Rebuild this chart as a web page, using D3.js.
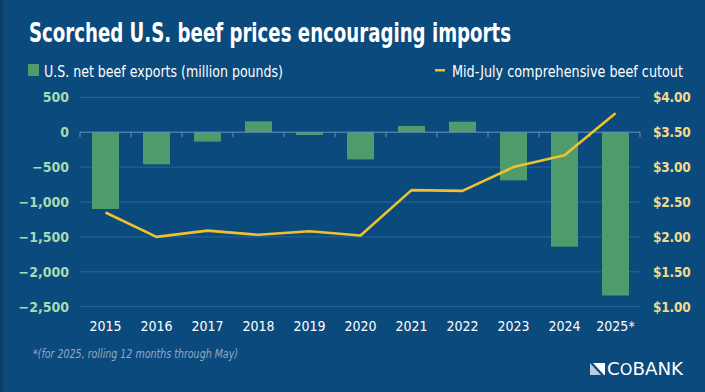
<!DOCTYPE html>
<html><head><meta charset="utf-8">
<script src="https://cdn.jsdelivr.net/npm/d3@7"></script>
<style>
html,body{margin:0;padding:0;background:#0b4a7c;}
svg{display:block;}
text{font-family:"DejaVu Sans Condensed","Roboto",sans-serif;}
</style></head>
<body>
<svg id="c" width="705" height="392"></svg>
<script>
const years = ["2015","2016","2017","2018","2019","2020","2021","2022","2023","2024","2025*"];
const netExports = [-1100,-460,-135,155,-40,-390,90,150,-690,-1640,-2340];
const cutout = [2.35,2.00,2.09,2.03,2.08,2.02,2.67,2.66,3.00,3.17,3.77];
const leftTicks = [500,0,-500,-1000,-1500,-2000,-2500];
const rightTicks = [4.0,3.5,3.0,2.5,2.0,1.5,1.0];

const W=705,H=392;
const svg=d3.select("#c");
svg.append("rect").attr("width",W).attr("height",H).attr("fill","#0b4a7c");
svg.append("rect").attr("width",3).attr("height",H).attr("fill","#093f6b");

const x=d3.scaleBand().domain(years).range([80,641]).paddingInner(0.47).paddingOuter(0.235);
const xb=d3.scaleBand().domain(years).range([80,641]);
const yL=d3.scaleLinear().domain([-2500,500]).range([306.7,97.3]);
const yR=d3.scaleLinear().domain([1,4]).range([306.7,97.3]);

// title
svg.append("text").attr("x",29).attr("y",42).attr("fill","#fff").attr("font-weight","bold")
 .attr("font-size",27).attr("textLength",482).attr("lengthAdjust","spacingAndGlyphs")
 .text("Scorched U.S. beef prices encouraging imports");

// legend
svg.append("rect").attr("x",28).attr("y",64).attr("width",11).attr("height",12).attr("fill","#4f9b6b");
svg.append("text").attr("x",44).attr("y",76.5).attr("fill","#fff").attr("font-size",15.5)
 .attr("textLength",239).attr("lengthAdjust","spacingAndGlyphs").text("U.S. net beef exports (million pounds)");
svg.append("rect").attr("x",435).attr("y",69).attr("width",10).attr("height",2.5).attr("fill","#f0c02f");
svg.append("text").attr("x",452).attr("y",76.5).attr("fill","#fff").attr("font-size",15.5)
 .attr("textLength",231).attr("lengthAdjust","spacingAndGlyphs").text("Mid-July comprehensive beef cutout");

// gridlines
svg.append("g").selectAll("line").data(leftTicks.filter(d=>d!==0)).join("line")
 .attr("x1",80).attr("x2",640).attr("y1",d=>yL(d)).attr("y2",d=>yL(d))
 .attr("stroke","#2d6497").attr("stroke-width",1);

// bars
svg.append("g").selectAll("rect").data(years).join("rect")
 .attr("x",d=>x(d)).attr("width",x.bandwidth())
 .attr("y",(d,i)=>yL(Math.max(0,netExports[i])))
 .attr("height",(d,i)=>Math.abs(yL(netExports[i])-yL(0)))
 .attr("fill","#4f9b6b");

// zero axis
const g0=svg.append("g").attr("transform",`translate(0,${yL(0)})`);
g0.append("line").attr("x1",80).attr("x2",640).attr("stroke","#6f93bb").attr("stroke-width",1);
g0.selectAll("line.t").data(years).join("line").attr("class","t")
 .attr("x1",d=>xb(d)).attr("x2",d=>xb(d)).attr("y1",0).attr("y2",5)
 .attr("stroke","#6f93bb").attr("stroke-width",1);
g0.append("line").attr("x1",640).attr("x2",640).attr("y1",0).attr("y2",5).attr("stroke","#6f93bb");

// line
const line=d3.line().x((d,i)=>x(years[i])+x.bandwidth()/2).y(d=>yR(d));
svg.append("path").datum(cutout).attr("d",line).attr("fill","none")
 .attr("stroke","#f0c02f").attr("stroke-width",2.6).attr("stroke-linejoin","round");

// left ticks
svg.append("g").selectAll("text").data(leftTicks).join("text")
 .attr("x",69).attr("y",d=>yL(d)+5).attr("text-anchor","end")
 .attr("fill","#a6dbb3").attr("font-size",14).attr("font-weight","bold")
 .text(d=>d3.format(",")(d));

// right ticks
svg.append("g").selectAll("text").data(rightTicks).join("text")
 .attr("x",653).attr("y",d=>yR(d)+5).attr("text-anchor","start")
 .attr("fill","#f3d98b").attr("font-size",13.5).attr("font-weight","bold")
 .attr("letter-spacing",-0.2)
 .text(d=>"$"+d.toFixed(2));

// x labels
svg.append("g").selectAll("text").data(years).join("text")
 .attr("x",d=>x(d)+x.bandwidth()/2).attr("y",331).attr("text-anchor","middle")
 .attr("fill","#fff").attr("font-size",14).text(d=>d);

// footnote
svg.append("text").attr("x",33).attr("y",358).attr("fill","#8fa9c4").attr("font-size",11.5)
 .attr("font-style","italic").attr("textLength",205).attr("lengthAdjust","spacingAndGlyphs")
 .text("*(for 2025, rolling 12 months through May)");

// logo
const lg=svg.append("g").attr("transform","translate(590,363)");
lg.append("path").attr("d","M0,0 L0,12 L11,12 Z").attr("fill","#b9cde0");
lg.append("path").attr("d","M3,0 L15,0 L15,12 L14,12 Z").attr("fill","#ffffff");
const lt=svg.append("text").attr("x",607).attr("y",375).attr("fill","#fff").attr("font-size",17)
 .attr("font-family","'Liberation Sans',Arial,sans-serif")
 .attr("textLength",76).attr("lengthAdjust","spacingAndGlyphs");
lt.append("tspan").text("C");
lt.append("tspan").attr("font-size",15).text("O");
lt.append("tspan").text("BANK");
</script>
</body></html>
